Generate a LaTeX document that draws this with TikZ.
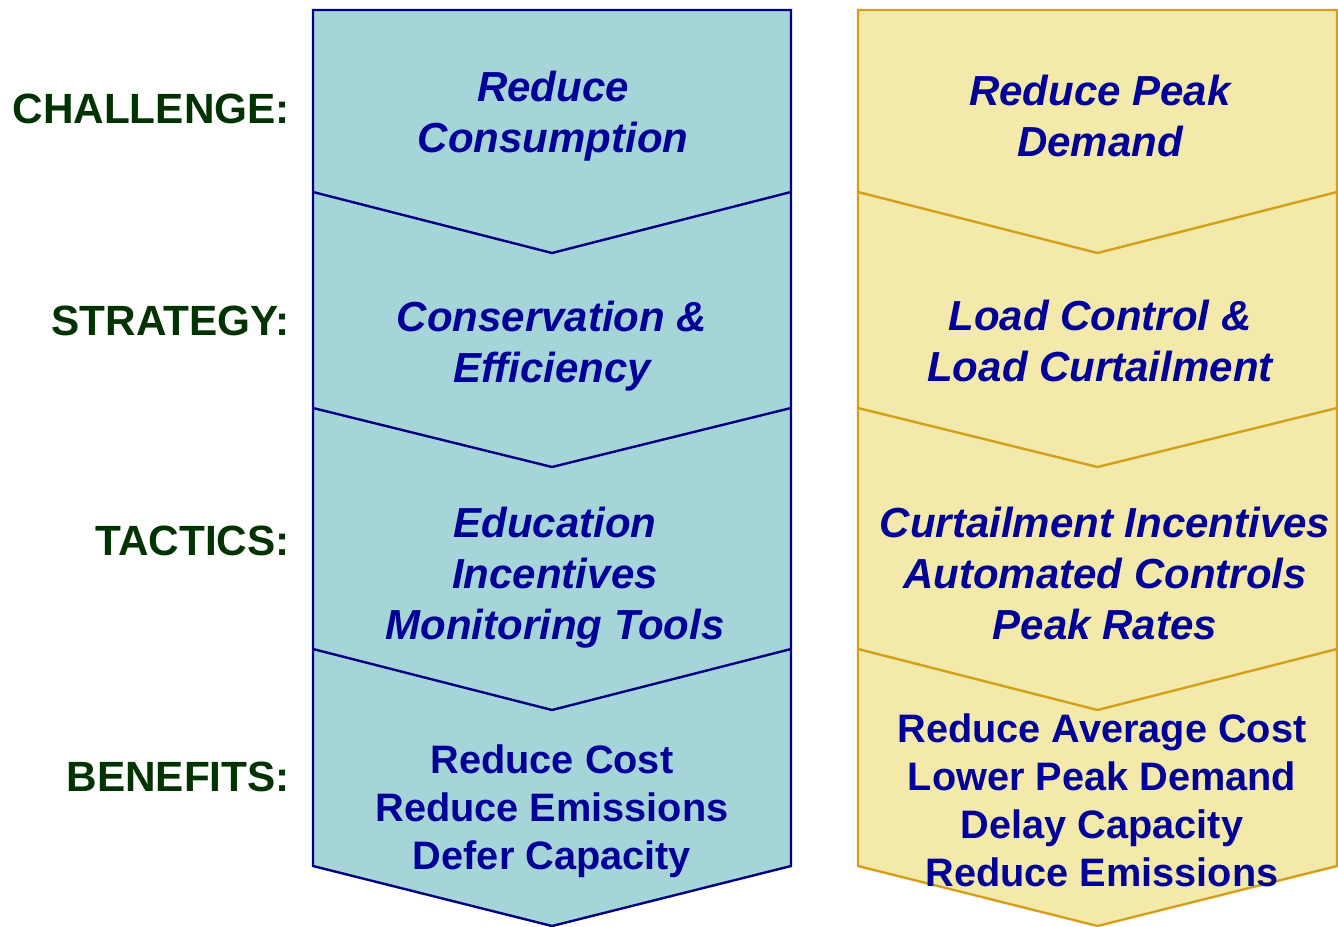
\documentclass[tikz,border=0pt]{standalone}
\usepackage{fontspec}
\setmainfont{Liberation Sans}
\definecolor{tealfill}{HTML}{A5D5D9}
\definecolor{navyline}{HTML}{000080}
\definecolor{navytext}{HTML}{000099}
\definecolor{goldfill}{HTML}{F3E9AB}
\definecolor{goldline}{HTML}{D4A017}
\definecolor{labelgreen}{HTML}{003300}
\begin{document}
\begin{tikzpicture}[x=1pt,y=-1pt,
  leftcol/.style={fill=tealfill,draw=navyline,line width=2.4pt,line join=miter},
  rightcol/.style={fill=goldfill,draw=goldline,line width=2.4pt,line join=miter},
  leftsep/.style={draw=navyline,line width=2.4pt},
  rightsep/.style={draw=goldline,line width=2.4pt},
  rowlabel/.style={anchor=base east,text=labelgreen,font=\fontsize{42.3}{47}\selectfont\bfseries,inner sep=0pt},
  ittext/.style={anchor=base,align=center,text=navytext,font=\fontsize{42}{51}\selectfont\bfseries\itshape,inner sep=0pt},
  bentext/.style={anchor=base,align=center,text=navytext,font=\fontsize{39.7}{47.8}\selectfont\bfseries,inner sep=0pt}]
\useasboundingbox (0,0) rectangle (1338,926);
% columns
\draw[leftcol] (313,10) -- (791,10) -- (791,866) -- (552,926) -- (313,866) -- cycle;
\draw[rightcol] (858,10) -- (1337,10) -- (1337,866) -- (1097.5,926) -- (858,866) -- cycle;
\foreach \ys/\yt in {192/253, 408/467, 649/710} {
  \draw[leftsep] (313,\ys) -- (552,\yt) -- (791,\ys);
  \draw[rightsep] (858,\ys) -- (1097.5,\yt) -- (1337,\ys);
}
% row labels
\node[rowlabel] (lchal) at (290,123) {CHALLENGE:};
\node[rowlabel] (lstrat) at (290,335) {STRATEGY:};
\node[rowlabel] (ltact) at (290,555) {TACTICS:};
\node[rowlabel] (lben) at (290,791) {BENEFITS:};
% left column texts (anchor = baseline of last line)
\node[ittext] (lc) at (553,152) {Reduce\\Consumption};
\node[ittext] (ls) at (552,382) {Conservation \&\\Efficiency};
\node[ittext] (lt) at (555,639) {Education\\Incentives\\Monitoring Tools};
\node[bentext] (lb) at (552,869) {Reduce Cost\\Reduce Emissions\\Defer Capacity};
% right column texts
\node[ittext] (rc) at (1100,156) {Reduce Peak\\Demand};
\node[ittext] (rs) at (1100,381) {Load Control \&\\Load Curtailment};
\node[ittext] (rt) at (1105,639) {Curtailment Incentives\\Automated Controls\\Peak Rates};
\node[bentext] (rb) at (1102,886) {Reduce Average Cost\\Lower Peak Demand\\Delay Capacity\\Reduce Emissions};
\end{tikzpicture}
\end{document}
